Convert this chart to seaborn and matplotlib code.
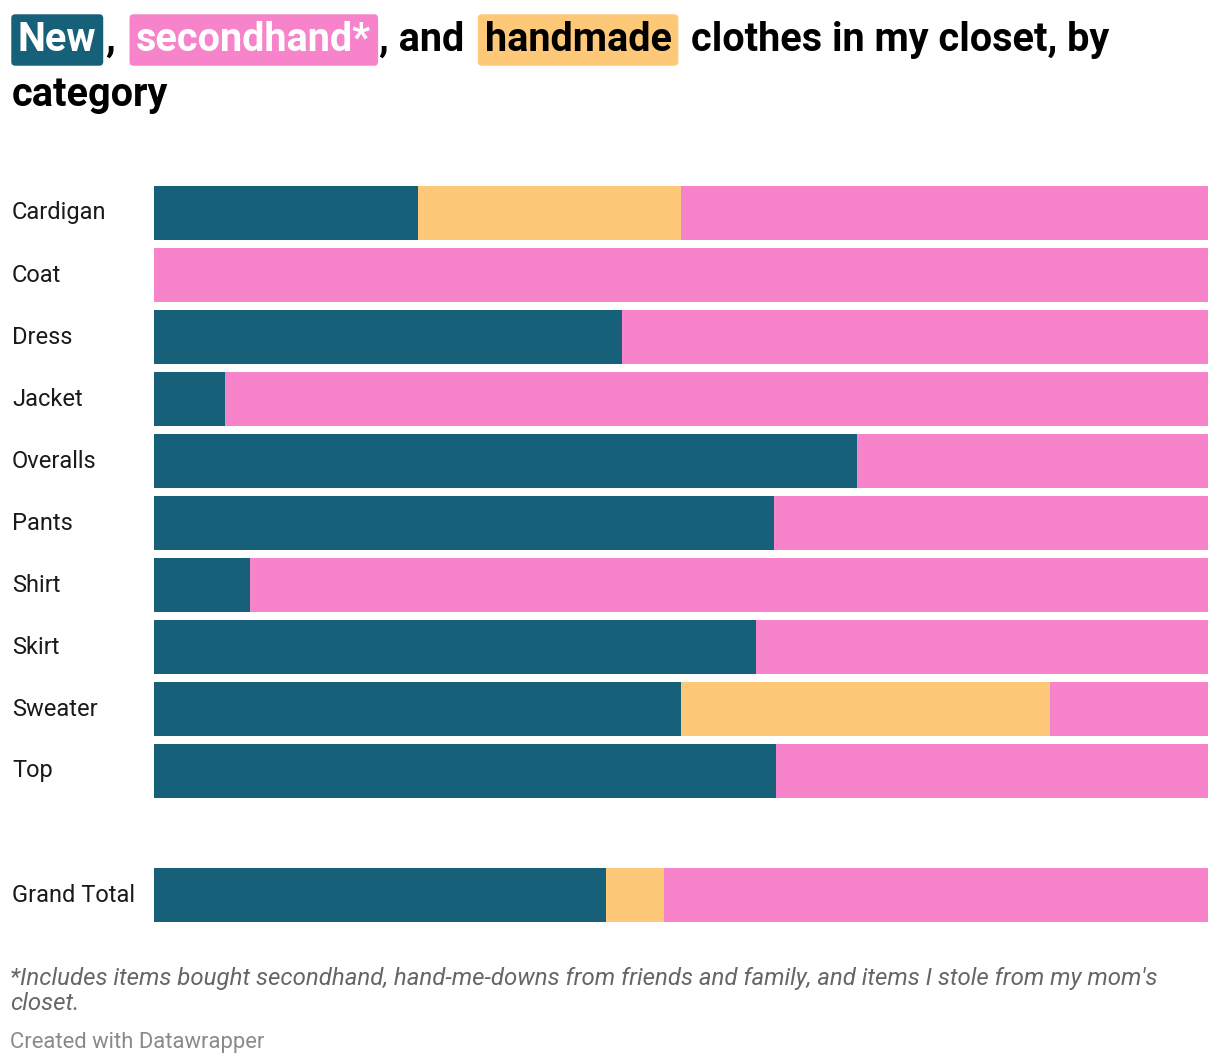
### Closet composition chart
## stacked 100% bars: new / handmade / secondhand per category

import matplotlib.pyplot as plt
import matplotlib.transforms as mtransforms
import numpy as np
import pandas as pd
import seaborn as sns

# data (percent of items in each category), blank row separates the total
categories = ["Cardigan", "Coat", "Dress", "Jacket", "Overalls", "Pants",
              "Shirt", "Skirt", "Sweater", "Top", " ", "Grand Total"]
new_pct = [25.0, 0.0, 44.4, 6.7, 66.7, 58.8, 9.1, 57.1, 50.0, 59.0, 0.0, 42.9]
handmade_pct = [25.0, 0.0, 0.0, 0.0, 0.0, 0.0, 0.0, 0.0, 35.0, 0.0, 0.0, 5.5]
secondhand_pct = [50.0, 100.0, 55.6, 93.3, 33.3, 41.2, 90.9, 42.9, 15.0, 41.0, 0.0, 51.6]

NEW_C = "#176079"
SECOND_C = "#f783cb"
HAND_C = "#fdc877"
FONT = "Roboto"

df = pd.DataFrame({
    "category": categories,
    "new": new_pct,
    "handmade": handmade_pct,
    "secondhand": secondhand_pct,
})
# cumulative ends for stacking (draw longest first)
df["end_new"] = df["new"]
df["end_hand"] = df["new"] + df["handmade"]
df["end_all"] = df["end_hand"] + df["secondhand"]

sns.set_style("white")
plt.rcParams["font.family"] = [FONT, "DejaVu Sans"]

W, H = 1220, 1064
fig = plt.figure(figsize=(W / 100, H / 100), dpi=100)
ax = fig.add_axes([154 / W, 1 - 926 / H, 1054 / W, 744 / H])

for col, color in [("end_all", SECOND_C), ("end_hand", HAND_C), ("end_new", NEW_C)]:
    sns.barplot(data=df, x=col, y="category", order=categories, orient="h",
                color=color, saturation=1, width=0.87, linewidth=0,
                errorbar=None, ax=ax)

ax.set_xlim(0, 100)
ax.set_ylim(len(categories) - 0.5, -0.5)
ax.set_xlabel("")
ax.set_ylabel("")
ax.set_xticks([])
ax.set_yticks([])
sns.despine(ax=ax, left=True, bottom=True)

# category labels, left aligned at the figure edge
trans = mtransforms.blended_transform_factory(fig.transFigure, ax.transData)
for i, cat in enumerate(categories):
    ax.text(12 / W, i, cat, transform=trans, ha="left", va="center",
            fontsize=17, color="#1a1a1a")

# title with highlighted words
fig.canvas.draw()
renderer = fig.canvas.get_renderer()
# (text, colour, background, gap to next piece in px)
pieces = [
    ("New", "white", NEW_C, 9),
    (",", "black", None, 21),
    ("secondhand*", "white", SECOND_C, 8),
    (", and", "black", None, 20),
    ("handmade", "black", HAND_C, 19),
    ("clothes in my closet, by", "black", None, 0),
]
TITLE_FS = 28.5
x = 18
y_px = 51
for txt, color, bg, gap in pieces:
    kw = {}
    if bg is not None:
        kw["bbox"] = dict(boxstyle="round,pad=0.17,rounding_size=0.1",
                          facecolor=bg, edgecolor="none")
    t = fig.text(x / W, 1 - y_px / H, txt, fontsize=TITLE_FS, fontweight="bold",
                 color=color, ha="left", va="baseline", **kw)
    ext = t.get_window_extent(renderer)
    x = ext.x1 + gap
fig.text(12 / W, 1 - 106 / H, "category", fontsize=TITLE_FS, fontweight="bold",
         color="black", ha="left", va="baseline")

# footer
fig.text(10 / W, 1 - 1010 / H,
         "*Includes items bought secondhand, hand-me-downs from friends and family, "
         "and items I stole from my mom's\ncloset.",
         fontsize=17.3, style="italic", color="#666666", ha="left", va="baseline",
         linespacing=1.1)
fig.text(10 / W, 1 - 1048 / H, "Created with Datawrapper", fontsize=15.8,
         color="#8a8a8a", ha="left", va="baseline")

fig.savefig("out.png", dpi=100)
plt.close(fig)
